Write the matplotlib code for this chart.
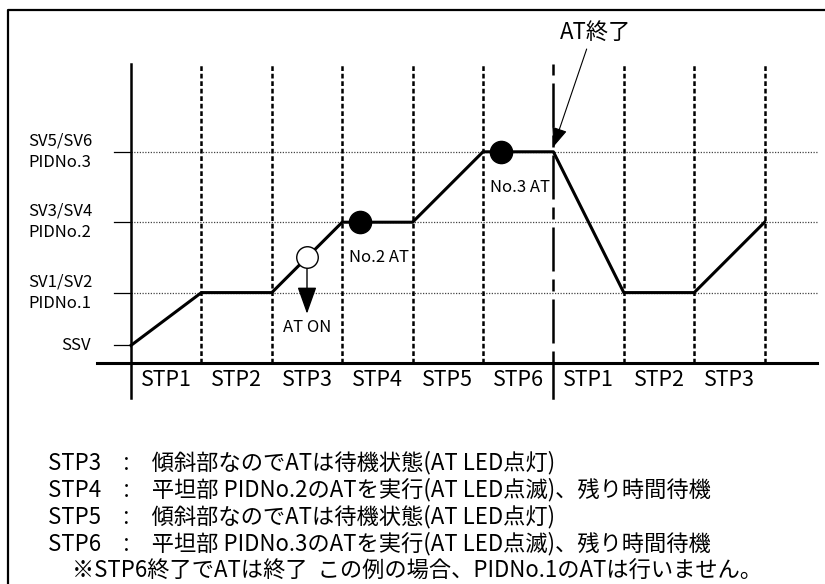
import matplotlib
matplotlib.use('Agg')
import matplotlib.pyplot as plt

plt.rcParams['font.family'] = ['Noto Sans CJK JP', 'DejaVu Sans']

# Program profile (x in steps, y in set-value levels)
step_x = [0, 1, 2, 3, 4, 5, 6, 7, 8, 9]
profile_y = [0.25, 1, 1, 2, 2, 3, 3, 1, 1, 2]

level_values = [0.25, 1, 2, 3]
level_labels = ['SSV', 'SV1/SV2\nPIDNo.1', 'SV3/SV4\nPIDNo.2', 'SV5/SV6\nPIDNo.3']

step_labels = ['STP1', 'STP2', 'STP3', 'STP4', 'STP5', 'STP6', 'STP1', 'STP2', 'STP3']

# AT events
at_on_x, at_on_y = 2.5, 1.5
at_run_x = [3.25, 5.25]
at_run_y = [2, 3]
at_run_labels = ['No.2 AT', 'No.3 AT']
at_end_x = 6

note_lines = [
    'STP3　:　傾斜部なのでATは待機状態(AT LED点灯)',
    'STP4　:　平坦部 PIDNo.2のATを実行(AT LED点滅)、残り時間待機',
    'STP5　:　傾斜部なのでATは待機状態(AT LED点灯)',
    'STP6　:　平坦部 PIDNo.3のATを実行(AT LED点滅)、残り時間待機',
]
note_last = '※STP6終了でATは終了  この例の場合、PIDNo.1のATは行いません。'

# pixel geometry of the reference: one grid unit = 70.4 px
unit = 70.4
x0_px, y0_px = 131, 363
W, H = 825, 584

fig = plt.figure(figsize=(W / 100, H / 100), dpi=100)
ax = fig.add_axes([0, 0, 1, 1])
ax.set_xlim(-x0_px / unit, (W - x0_px) / unit)
ax.set_ylim(-(H - y0_px) / unit, y0_px / unit)
ax.axis('off')

top = 4.25
right = 9.74

# outer frame (left and top edges only visible)
ax.plot([-1.747, -1.747, 10.5], [-4, 5.014, 5.014], color='black', lw=1.6, clip_on=False)

# horizontal dotted guide lines
for lv in level_values[1:]:
    ax.plot([0, right], [lv, lv], color='#444444', lw=0.9, linestyle=(0, (1, 1.2)))

# level tick marks
for lv in level_values:
    ax.plot([-0.24, 0], [lv, lv], color='black', lw=0.9)

# vertical step dividers
for sx in step_x[1:]:
    if sx == at_end_x:
        continue
    ax.plot([sx, sx], [0, top], color='black', lw=1.8, dashes=(1.9, 1.1))

# AT end line (long-short dashes)
ax.plot([at_end_x, at_end_x], [0, top], color='black', lw=1.8,
        dashes=(4.8, 3.2, 17.6, 3.2), dash_capstyle='butt')
ax.plot([at_end_x, at_end_x], [0, -0.5], color='black', lw=1.8)

# axes
ax.plot([0, 0], [-0.5, top], color='black', lw=1.8)
ax.plot([-0.48, right], [0, 0], color='black', lw=2.2)

# profile
ax.plot(step_x, profile_y, color='black', lw=2.2, zorder=3)

# markers
ax.plot([at_on_x], [at_on_y], 'o', ms=15.5, mfc='white', mec='black', mew=1, zorder=4)
ax.plot(at_run_x, at_run_y, 'o', ms=16, color='black', zorder=4)

# AT ON arrow
ax.annotate('', xy=(at_on_x, 0.7), xytext=(at_on_x, at_on_y - 0.155),
            arrowprops=dict(arrowstyle='-|>,head_length=1.4,head_width=0.5',
                            mutation_scale=12, lw=1, color='black',
                            shrinkA=0, shrinkB=0))
ax.text(at_on_x, 0.5, 'AT ON', ha='center', va='center', fontsize=12)

for x, y, lab in zip(at_run_x, at_run_y, at_run_labels):
    ax.text(x - 0.15, y - 0.5, lab, ha='left', va='center', fontsize=12)

# AT end annotation
ax.annotate('AT終了', xy=(at_end_x, 3.07), xytext=(6.6, 4.70),
            ha='center', va='center', fontsize=16,
            arrowprops=dict(arrowstyle='-|>,head_length=0.75,head_width=0.3',
                            lw=0.8, color='black', shrinkA=2, shrinkB=0,
                            relpos=(0.4, 0.0)))

# level labels
for lv, lab in zip(level_values, level_labels):
    if '\n' in lab:
        ax.text(-1.01, lv, lab, ha='center', va='center', fontsize=12, linespacing=1.35)
    else:
        ax.text(-0.57, lv, lab, ha='right', va='center', fontsize=12)

# step labels
for i, lab in enumerate(step_labels):
    ax.text(i + 0.5, -0.24, lab, ha='center', va='center', fontsize=15.5)

# notes
note_y0 = (y0_px - 463) / unit
note_dy = 27.0 / unit
for i, line in enumerate(note_lines):
    ax.text((48 - x0_px) / unit, note_y0 - i * note_dy, line,
            ha='left', va='center', fontsize=16)
ax.text((72 - x0_px) / unit, note_y0 - len(note_lines) * note_dy, note_last,
        ha='left', va='center', fontsize=16)

fig.savefig('out.png', dpi=100)
